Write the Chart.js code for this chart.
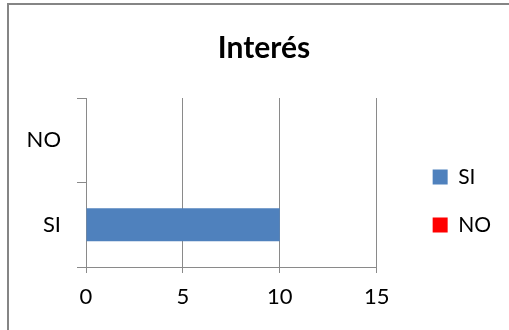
<!DOCTYPE html>
<html>
<head>
<meta charset="utf-8">
<script src="https://cdn.jsdelivr.net/npm/chart.js@4/dist/chart.umd.min.js"></script>
<style>
  html, body { margin: 0; padding: 0; background: #fff; }
  #wrap { position: relative; width: 509px; height: 330px; overflow: hidden; }
  #frame { position: absolute; left: 7px; top: 3px; width: 600px; height: 400px;
           border-top: 2px solid #858585; border-left: 2px solid #858585; }
  #grafico { position: absolute; left: 0; top: 0; }
</style>
</head>
<body>
<div id="wrap">
  <div id="frame"></div>
  <canvas id="grafico" width="509" height="330"></canvas>
</div>
<script>
/*--------------------DATOS--------------------*/
const categorias = ['SI', 'NO'];
const valores = [10, 0];
const colores = ['#4F81BD', '#FF0000'];
const ticksX = [0, 5, 10, 15];

const gris = '#8a8a8a';
const fuente = 'Lato, "Open Sans", sans-serif';

// mueve el titulo y la leyenda despues del layout
const desplazar = {
    id: 'desplazar',
    afterLayout(chart) {
        const t = chart.titleBlock;
        t.left += 28; t.right += 28;
        const l = chart.legend;
        l.left += 29; l.right += 29;
        l.top += 21; l.bottom += 21;
    }
};

/*--------------------GRAFICO--------------------*/
let canvas = document.getElementById('grafico');
let grafico = new Chart(canvas, {
    type: 'bar',
    data: {
        labels: categorias,
        datasets: [
            {
                label: 'Interés',
                data: valores,
                backgroundColor: colores,
                borderWidth: 0,
                barPercentage: 0.39,
                categoryPercentage: 1
            }
        ]
    },
    options: {
        indexAxis: 'y',
        responsive: false,
        animation: false,
        layout: { padding: { top: 30, right: 37, bottom: 0, left: 0 } },
        scales: {
            x: {
                min: ticksX[0],
                max: ticksX[ticksX.length - 1],
                afterBuildTicks: (axis) => { axis.ticks = ticksX.map((v) => ({ value: v })); },
                afterFit: (axis) => { axis.height = 63; },
                grid: { color: gris, lineWidth: 1, tickLength: 6, drawOnChartArea: true },
                border: { display: true, color: gris },
                ticks: { color: '#000', padding: 11, font: { family: fuente, size: 22 } }
            },
            y: {
                reverse: true,
                afterFit: (axis) => { axis.width = 86; },
                grid: { color: gris, offset: true, drawOnChartArea: false, tickLength: 9 },
                border: { display: true, color: gris },
                ticks: { color: '#000', padding: 16, font: { family: fuente, size: 22 } }
            }
        },
        plugins: {
            title: {
                display: true,
                text: 'Interés',
                color: '#000',
                font: { family: fuente, size: 30, weight: 'bold' },
                padding: { top: 0, bottom: 32 }
            },
            legend: {
                position: 'right',
                labels: {
                    color: '#000',
                    boxWidth: 15,
                    boxHeight: 15,
                    padding: 27,
                    font: { family: fuente, size: 21 },
                    generateLabels: () => categorias.map((c, i) => ({
                        text: c,
                        fillStyle: colores[i],
                        strokeStyle: colores[i],
                        lineWidth: 0,
                        index: i
                    }))
                }
            },
            tooltip: { enabled: false }
        }
    },
    plugins: [desplazar]
});
</script>
</body>
</html>
